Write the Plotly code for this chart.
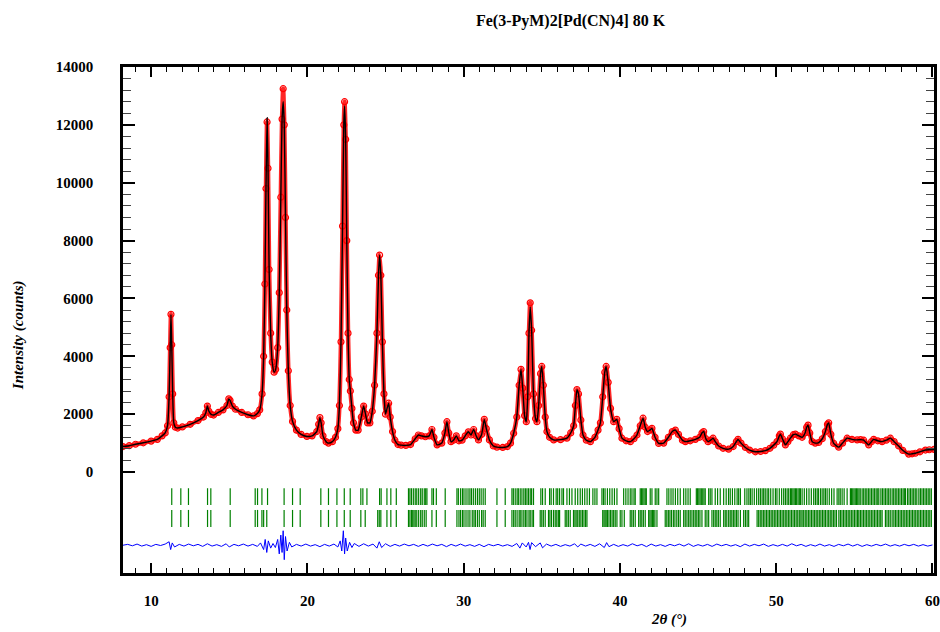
import plotly.graph_objects as go

# ---------------- data ----------------
two_theta = [
    8.2, 8.6, 9.0, 9.5, 10.0, 10.4, 10.7, 10.9, 11.05, 11.15,
    11.22, 11.27, 11.32, 11.38, 11.45, 11.55, 11.7, 12.0, 12.5, 13.0,
    13.35, 13.5, 13.6, 13.7, 13.85, 14.0, 14.3, 14.6, 14.85, 14.97,
    15.05, 15.2, 15.4, 15.8, 16.2, 16.55, 16.8, 16.95, 17.1, 17.2,
    17.28, 17.35, 17.42, 17.48, 17.55, 17.65, 17.75, 17.87, 17.97, 18.1,
    18.2, 18.3, 18.38, 18.45, 18.52, 18.6, 18.68, 18.78, 18.9, 19.05,
    19.3, 19.6, 19.97, 20.3, 20.6, 20.72, 20.8, 20.88, 21.0, 21.2,
    21.35, 21.6, 21.8, 21.95, 22.05, 22.15, 22.25, 22.33, 22.38, 22.45,
    22.52, 22.6, 22.68, 22.75, 22.85, 22.95, 23.1, 23.25, 23.45, 23.6,
    23.72, 23.85, 24.0, 24.15, 24.3, 24.45, 24.55, 24.62, 24.7, 24.8,
    24.9, 25.0, 25.1, 25.2, 25.3, 25.45, 25.6, 25.8, 26.0, 26.3,
    26.6, 26.9, 27.1, 27.3, 27.55, 27.8, 27.97, 28.1, 28.3, 28.6,
    28.8, 28.93, 29.05, 29.19, 29.35, 29.53, 29.7, 29.9, 30.1, 30.3,
    30.47, 30.64, 30.8, 30.95, 31.15, 31.32, 31.45, 31.65, 31.9, 32.13,
    32.5, 32.8, 33.0, 33.2, 33.4, 33.55, 33.67, 33.78, 33.9, 34.01,
    34.1, 34.18, 34.26, 34.35, 34.47, 34.6, 34.69, 34.8, 34.92, 35.0,
    35.1, 35.22, 35.33, 35.5, 35.76, 36.2, 36.61, 36.85, 37.04, 37.15,
    37.25, 37.35, 37.5, 37.64, 37.85, 38.11, 38.4, 38.6, 38.75, 38.9,
    39.03, 39.12, 39.25, 39.4, 39.6, 39.8, 39.95, 40.13, 40.4, 40.67,
    40.9, 41.09, 41.3, 41.48, 41.62, 41.77, 41.92, 42.05, 42.25, 42.48,
    42.8, 43.1, 43.35, 43.55, 43.75, 44.0, 44.19, 44.5, 44.83, 45.1,
    45.25, 45.36, 45.5, 45.64, 45.8, 45.96, 46.1, 46.32, 46.6, 46.96,
    47.25, 47.45, 47.56, 47.75, 48.03, 48.3, 48.67, 49.0, 49.31, 49.6,
    49.84, 50.05, 50.2, 50.27, 50.4, 50.59, 50.75, 50.91, 51.1, 51.23,
    51.45, 51.66, 51.85, 51.95, 52.04, 52.15, 52.3, 52.5, 52.72, 52.95,
    53.15, 53.28, 53.36, 53.5, 53.68, 54.0, 54.25, 54.54, 54.85, 55.18,
    55.4, 55.6, 55.92, 56.1, 56.24, 56.5, 56.78, 57.05, 57.31, 57.55,
    57.84, 58.1, 58.48, 58.7, 58.91, 59.2, 59.55, 59.8, 60.1,
]
intensity_obs = [
    880, 910, 960, 1010, 1070, 1130, 1250, 1350, 1600, 2600,
    4300, 5450, 4400, 2700, 1700, 1550, 1520, 1560, 1650, 1780,
    1900, 2050, 2280, 2100, 1990, 1970, 2060, 2150, 2300, 2530,
    2480, 2280, 2170, 2060, 1980, 1940, 2020, 2150, 2700, 4000,
    6500, 9800, 12100, 10500, 7000, 4800, 3800, 3450, 3550, 4300,
    6200, 9500, 12200, 13250, 12000, 8800, 5600, 3500, 2300, 1750,
    1450, 1300, 1230, 1250, 1400, 1650, 1880, 1700, 1250, 1050,
    1000, 1050, 1200, 1500, 2300, 4500, 8500, 12000, 12800, 11500,
    8000, 4800, 3200, 2800, 2200, 1700, 1450, 1450, 1900, 2280,
    2000, 1700, 1700, 2100, 3000, 4800, 6800, 7500, 6800, 4500,
    2700, 2000, 2200, 2380, 1900, 1400, 1100, 950, 930, 920,
    950, 1150, 1280, 1250, 1220, 1250, 1470, 1200, 940, 1000,
    1350, 1740, 1350, 1050, 1100, 1250, 1080, 1100, 1250, 1390,
    1280, 1470, 1250, 1110, 1300, 1820, 1500, 1110, 900, 860,
    850, 880, 1000, 1340, 1900, 3000, 3550, 2900, 1950, 1740,
    2600, 4800, 5850, 4900, 2700, 1850, 1740, 2300, 3400, 3650,
    3000, 1900, 1400, 1200, 1110, 1120, 1170, 1350, 1600, 2300,
    2850, 2700, 1800, 1280, 1100, 1050, 1200, 1450, 1700, 2600,
    3450, 3650, 3100, 2200, 1740, 1820, 1500, 1170, 1080, 1050,
    1150, 1280, 1600, 1860, 1550, 1400, 1450, 1510, 1200, 990,
    1000, 1200, 1400, 1450, 1300, 1100, 1050, 1080, 1130, 1200,
    1350, 1400, 1150, 1050, 1100, 1170, 1050, 900, 820, 790,
    880, 1050, 1130, 1000, 850, 760, 700, 710, 740, 820,
    930, 1050, 1250, 1310, 1150, 940, 1050, 1170, 1290, 1310,
    1250, 1200, 1350, 1550, 1620, 1350, 1050, 1000, 1020, 1150,
    1400, 1650, 1700, 1300, 990, 860, 1000, 1170, 1130, 1110,
    1120, 1100, 940, 1050, 1130, 1080, 1050, 1100, 1170, 1050,
    900, 750, 620, 630, 650, 700, 760, 770, 780,
]
# calculated profile: equal to the observed one except at a few peak tops
calc_peak_tops = {17.42: 12250, 18.45: 12800, 22.38: 12650, 34.26: 5700}

# difference (obs - calc)
diff_theta = [
    8.2, 8.5, 8.8, 9.1, 9.4, 9.7, 10.0, 10.3, 10.6, 10.9,
    11.15, 11.25, 11.35, 11.5, 11.8, 12.1, 12.4, 12.7, 13.0, 13.3,
    13.6, 13.9, 14.2, 14.5, 14.8, 15.0, 15.3, 15.6, 15.9, 16.2,
    16.5, 16.8, 17.0, 17.2, 17.3, 17.4, 17.5, 17.65, 17.8, 17.95,
    18.1, 18.2, 18.3, 18.38, 18.45, 18.52, 18.6, 18.7, 18.85, 19.0,
    19.3, 19.6, 19.9, 20.2, 20.5, 20.8, 21.1, 21.4, 21.7, 21.95,
    22.1, 22.2, 22.3, 22.38, 22.45, 22.55, 22.7, 22.85, 23.0, 23.3,
    23.6, 23.9, 24.2, 24.45, 24.6, 24.75, 25.0, 25.3, 25.6, 25.9,
    26.2, 26.5, 26.8, 27.1, 27.4, 27.7, 28.0, 28.3, 28.6, 28.9,
    29.2, 29.5, 29.8, 30.1, 30.4, 30.7, 31.0, 31.3, 31.6, 31.9,
    32.2, 32.5, 32.8, 33.1, 33.4, 33.6, 33.75, 34.0, 34.15, 34.25,
    34.35, 34.6, 34.9, 35.05, 35.3, 35.6, 35.9, 36.2, 36.5, 36.8,
    37.1, 37.3, 37.5, 37.8, 38.1, 38.4, 38.7, 39.0, 39.15, 39.3,
    39.6, 39.9, 40.2, 40.5, 40.8, 41.1, 41.4, 41.7, 42.0, 42.3,
    42.6, 42.9, 43.2, 43.5, 43.8, 44.1, 44.4, 44.7, 45.0, 45.3,
    45.6, 45.9, 46.2, 46.5, 46.8, 47.1, 47.4, 47.7, 48.0, 48.3,
    48.6, 48.9, 49.2, 49.5, 49.8, 50.1, 50.4, 50.7, 51.0, 51.3,
    51.6, 51.9, 52.2, 52.5, 52.8, 53.1, 53.4, 53.7, 54.0, 54.3,
    54.6, 54.9, 55.2, 55.5, 55.8, 56.1, 56.4, 56.7, 57.0, 57.3,
    57.6, 57.9, 58.2, 58.5, 58.8, 59.1, 59.4, 59.7, 60.0,
]
diff_values = [
    0, 30, -20, 40, -30, 20, -40, 30, -10, 40,
    120, -150, 80, -60, 30, -30, 40, -20, 30, -40,
    50, -30, 20, -40, 50, -60, 30, -20, 40, -30,
    30, -40, 80, -150, 200, -250, 150, -100, 60, -80,
    200, -300, 350, -250, 500, -500, 300, -200, 100, -60,
    30, -30, 40, -30, 20, -50, 30, -30, 40, -60,
    150, -200, 500, -300, 250, -200, 100, -80, 60, -40,
    50, -30, 40, -100, 120, -80, 50, -40, 30, -30,
    40, -20, 30, -40, 30, -30, 40, -20, 30, -50,
    30, -30, 40, -30, 20, -40, 30, -50, 30, -20,
    30, -30, 20, -40, 60, -100, 80, -60, 100, -150,
    90, -50, 80, -90, 40, -30, 30, -40, 20, -30,
    50, -60, 40, -30, 30, -40, 50, -80, 90, -50,
    30, -40, 20, -30, 50, -20, 30, -50, 40, -30,
    20, -40, 30, -20, 40, -30, 50, -40, 20, -30,
    30, -40, 40, -20, 30, -30, 20, -50, 40, -30,
    30, -20, 40, -40, 20, -30, 30, -30, 50, -20,
    30, -40, 20, -30, 40, -30, 20, -40, 30, -20,
    40, -30, 30, -40, 20, -30, 30, -20, 40, -30,
    20, -30, 30, -20, 30, -30, 20, -30, 10,
]

# Bragg reflection positions (two rows)
reflections_1 = [
    11.32, 11.90, 12.39, 13.61, 13.82, 15.06, 16.66, 16.81, 17.09, 17.45,
    18.51, 19.05, 19.54, 20.86, 21.35, 21.89, 22.36, 22.74, 23.42, 23.55,
    23.81, 24.62, 24.72, 25.09, 25.34, 25.69,
    26.47, 26.56, 26.66, 26.78, 26.9, 27.0, 27.12, 27.25, 27.35, 27.48,
    27.57, 27.65, 27.97, 28.07, 28.25, 28.82,
    29.57, 29.66, 29.8, 29.92, 30.02, 30.15, 30.28, 30.4, 30.5, 30.62,
    30.75, 30.88, 31.0, 31.12, 31.25, 31.38, 32.13, 32.66,
    33.09, 33.18, 33.3, 33.42, 33.5, 33.62, 33.73, 33.85, 33.95, 34.05,
    34.15, 34.26, 34.35, 34.47,
    34.94, 35.05, 35.22, 35.5, 35.6, 35.75, 35.92, 36.02, 36.14, 36.29,
    36.39, 36.61, 36.77, 36.93, 37.14, 37.3, 37.46,
    37.6, 37.75, 37.9, 38.05, 38.27, 38.4, 38.53, 38.85, 38.95, 39.05,
    39.2, 39.35, 39.5, 39.65, 39.81,
    40.24, 40.38, 40.52, 40.66, 40.77, 40.9, 40.98, 41.3, 41.38, 41.46,
    41.54, 41.62, 41.69, 41.94, 42.05, 42.26, 42.37, 42.48,
    43.01, 43.13, 43.27, 43.4, 43.55, 43.7, 43.86, 44.08, 44.22, 44.36,
    44.5, 44.89, 44.97, 45.05, 45.13, 45.21, 45.3, 45.38, 45.46,
    45.68, 45.78, 45.89, 46.1, 46.25, 46.42, 46.64, 46.8, 46.95, 47.06,
    47.2, 47.35, 47.5, 47.6, 47.71, 47.99,
    48.13, 48.25, 48.35, 48.46, 48.6, 48.75, 48.88, 48.99, 49.1, 49.2,
    49.3, 49.42, 49.52, 49.65, 49.8, 49.95,
    50.05, 50.2, 50.35, 50.48, 50.59, 50.7, 50.8, 50.91, 50.99, 51.07,
    51.15, 51.23, 51.31, 51.4, 51.48, 51.55,
    51.66, 51.8, 51.95, 52.1, 52.25, 52.4, 52.51, 52.62, 52.7, 52.83,
    52.94, 53.05, 53.15, 53.26, 53.4, 53.55, 53.7, 53.9,
    54.01, 54.1, 54.22, 54.35, 54.54, 54.75, 54.82, 54.9, 54.98, 55.06,
    55.14, 55.22, 55.3, 55.38, 55.5,
    55.6, 55.7, 55.8, 55.9, 56.0, 56.1, 56.2, 56.3, 56.4, 56.5,
    56.57, 56.7, 56.8, 56.9, 57.0, 57.1, 57.2, 57.3, 57.42,
    57.52, 57.62, 57.72, 57.82, 57.92, 58.02, 58.12, 58.2, 58.27, 58.4,
    58.5, 58.6, 58.7, 58.8, 58.9, 59.0, 59.13,
    59.23, 59.33, 59.43, 59.53, 59.63, 59.73, 59.83, 59.93,
]
reflections_2 = [
    11.32, 11.90, 12.39, 13.61, 13.82, 15.06, 16.66, 16.81, 17.09, 17.2,
    17.4, 18.51, 19.05, 19.54, 20.86, 21.35, 21.89, 22.36, 22.74, 23.42,
    23.7, 24.5, 24.6, 24.7, 25.09, 25.34, 25.69,
    26.47, 26.56, 26.66, 26.74, 26.82, 26.9, 27.0, 27.12, 27.25, 27.35,
    27.48, 27.6, 27.97, 28.25, 28.82,
    29.57, 29.7, 29.8, 29.92, 30.02, 30.15, 30.28, 30.4, 30.55, 30.66,
    30.75, 30.88, 31.0, 31.15, 31.25, 31.38, 32.13, 32.66,
    33.09, 33.2, 33.3, 33.42, 33.55, 33.62, 33.73, 33.85, 33.95, 34.05,
    34.18, 34.26, 34.38, 34.47,
    34.9, 35.0, 35.1, 35.22, 35.43, 35.52, 35.62, 35.75, 35.86, 35.96,
    36.06, 36.14, 36.5, 36.6, 36.7, 36.82, 37.03, 37.12, 37.2, 37.3,
    37.4, 37.5, 37.6, 37.7, 37.8, 37.89,
    38.9, 38.98, 39.05, 39.12, 39.2, 39.3, 39.4, 39.5, 39.6, 39.7,
    39.81, 40.02, 40.13, 40.28, 40.66, 40.76, 40.86, 40.98, 41.2, 41.3,
    41.4, 41.5, 41.62, 41.84, 41.92, 42.0, 42.08, 42.16, 42.24, 42.37,
    42.9, 43.0, 43.1, 43.2, 43.3, 43.42, 43.52, 43.64, 43.75, 43.86,
    44.08, 44.18, 44.29, 44.4, 44.5, 44.61, 44.72, 44.82, 44.92, 45.02,
    45.12, 45.25, 45.46, 45.57, 45.68, 45.89, 46.0, 46.1, 46.2, 46.3,
    46.42, 46.64, 46.74, 46.84, 46.96, 47.06,
    47.16, 47.26, 47.36, 47.46, 47.56, 47.71, 47.92, 48.03, 48.14, 48.24,
    48.78, 48.88, 48.98, 49.08, 49.18, 49.28, 49.38, 49.48, 49.58, 49.68,
    49.78, 49.88, 49.98, 50.08, 50.18, 50.28, 50.38, 50.48, 50.58, 50.68,
    50.78, 50.88, 50.98, 51.08, 51.18, 51.28, 51.38, 51.48, 51.58, 51.66,
    51.76, 51.86, 51.96, 52.06, 52.16, 52.26, 52.36, 52.46, 52.56, 52.66,
    52.76, 52.86, 52.96, 53.06, 53.15, 53.26, 53.36, 53.46, 53.56, 53.66,
    53.76, 53.86, 54.01, 54.11, 54.21, 54.31, 54.41, 54.51, 54.61, 54.71,
    54.81, 54.91, 55.01, 55.11, 55.21, 55.29,
    55.39, 55.49, 55.59, 55.69, 55.79, 55.89, 55.99, 56.09, 56.19, 56.29,
    56.39, 56.49, 56.59, 56.69, 56.78, 56.99, 57.09, 57.2, 57.3, 57.42,
    57.53, 57.63, 57.73, 57.83, 57.93, 58.03, 58.13, 58.23, 58.33, 58.43,
    58.53, 58.63, 58.73, 58.83, 58.93, 59.03, 59.13, 59.23, 59.33, 59.43,
    59.53, 59.63, 59.73, 59.83, 59.93,
]

title_text = "Fe(3-PyM)2[Pd(CN)4] 80 K"
y_tick_values = [0, 2000, 4000, 6000, 8000, 10000, 12000, 14000]
y_tick_labels = ["0", "2000", "4000", "6000", "8000", "10000", "12000", "14000"]
x_tick_values = [10, 20, 30, 40, 50, 60]
x_tick_labels = ["10", "20", "30", "40", "50", "60"]

# ---------------- layout constants (positions / styles) ----------------
DIFF_OFFSET = -2530
ROW1 = (-560, -1140)
ROW2 = (-1310, -1900)
FONT = "Liberation Serif"

assert len(two_theta) == len(intensity_obs)
assert len(diff_theta) == len(diff_values)

intensity_calc = [calc_peak_tops.get(t, v) for t, v in zip(two_theta, intensity_obs)]
diff_plot = [v + DIFF_OFFSET for v in diff_values]


def tick_segments(positions, y0, y1):
    xs, ys = [], []
    for p in positions:
        xs += [p, p, None]
        ys += [y0, y1, None]
    return xs, ys


fig = go.Figure()

# observed (red open circles)
fig.add_trace(go.Scatter(
    x=two_theta, y=intensity_obs, mode="lines+markers",
    line=dict(color="rgba(255,0,0,0.85)", width=4.5, shape="spline", smoothing=0.5),
    marker=dict(symbol="circle-open", size=6, color="red", line=dict(width=1.2, color="red")),
    showlegend=False, hoverinfo="skip"))

# calculated (black line)
fig.add_trace(go.Scatter(
    x=two_theta, y=intensity_calc, mode="lines",
    line=dict(color="black", width=1.4, shape="spline", smoothing=0.5),
    showlegend=False, hoverinfo="skip"))

# reflection tick rows
for pos, (a, b) in ((reflections_1, ROW1), (reflections_2, ROW2)):
    xs, ys = tick_segments(pos, a, b)
    fig.add_trace(go.Scatter(x=xs, y=ys, mode="lines",
                             line=dict(color="#008000", width=1.2),
                             showlegend=False, hoverinfo="skip"))

# difference curve
fig.add_trace(go.Scatter(
    x=diff_theta, y=diff_plot, mode="lines",
    line=dict(color="#0000ff", width=1),
    showlegend=False, hoverinfo="skip"))

y_minor = [v for v in range(400, 14000, 400) if v % 2000 != 0]
x_minor = [v for v in range(9, 61) if v % 10 != 0]

fig.update_layout(
    width=940, height=632,
    margin=dict(l=123, r=6, t=67, b=59),
    paper_bgcolor="white", plot_bgcolor="white",
    font=dict(family=FONT, color="black"),
    title=dict(text=title_text, x=0.607, xanchor="center", y=0.968, yanchor="middle",
               font=dict(family=FONT, size=16, weight="bold", color="black")),
    xaxis=dict(
        range=[8.2, 60.1], showgrid=False, zeroline=False, automargin=False,
        showline=True, linecolor="black", linewidth=2.5, mirror="ticks",
        ticks="inside", ticklen=10, tickwidth=2, tickcolor="black",
        tickmode="array", tickvals=x_tick_values, ticktext=x_tick_labels,
        tickfont=dict(family=FONT, size=15, weight="bold", color="black"),
        ticklabelstandoff=12,
        minor=dict(tickmode="array", tickvals=x_minor, ticks="inside",
                   ticklen=5, tickwidth=1, tickcolor="black"),
    ),
    yaxis=dict(
        range=[-3490, 14000], showgrid=False, zeroline=False, automargin=False,
        showline=True, linecolor="black", linewidth=2.5, mirror="ticks",
        ticks="inside", ticklen=12, tickwidth=2, tickcolor="black",
        tickmode="array", tickvals=y_tick_values, ticktext=y_tick_labels,
        tickfont=dict(family=FONT, size=15, weight="bold", color="black"),
        ticklabelstandoff=24,
        minor=dict(tickmode="array", tickvals=y_minor, ticks="inside",
                   ticklen=8, tickwidth=1, tickcolor="#444"),
    ),
    annotations=[
        dict(text="Intensity (counts)", xref="paper", yref="paper",
             x=-0.1295, y=0.47, xanchor="center", yanchor="middle",
             textangle=-90, showarrow=False,
             font=dict(family=FONT, size=15, weight="bold", style="italic", color="black")),
        dict(text="2θ (°)", xref="paper", yref="paper",
             x=0.673, y=-0.091, xanchor="center", yanchor="middle",
             showarrow=False,
             font=dict(family=FONT, size=15, weight="bold", style="italic", color="black")),
    ],
)

fig.write_html(
    "out.html",
    config={"displayModeBar": False},
    post_script="document.body.style.margin='0';document.body.style.overflow='hidden';",
)
